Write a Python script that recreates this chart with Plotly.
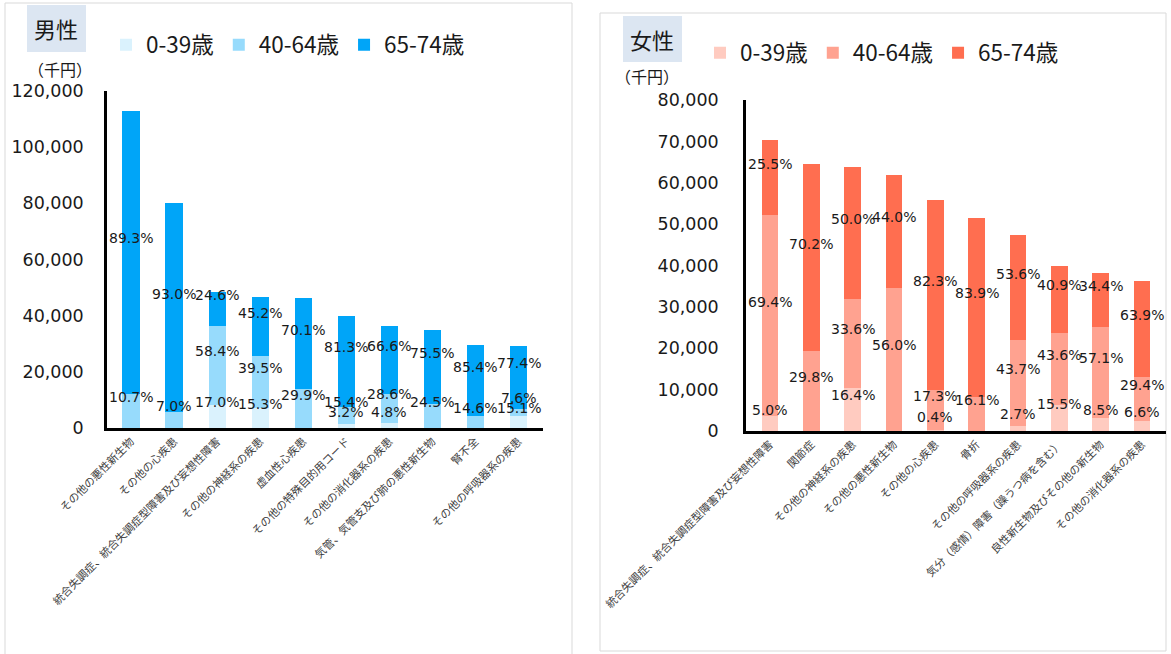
import plotly.graph_objects as go

# ---------------- data ----------------
male_categories = [
    "その他の悪性新生物", "その他の心疾患", "統合失調症、統合失調症型障害及び妄想性障害",
    "その他の神経系の疾患", "虚血性心疾患", "その他の特殊目的用コード",
    "その他の消化器系の疾患", "気管、気管支及び肺の悪性新生物", "腎不全", "その他の呼吸器系の疾患",
]
male_total = [113000, 80000, 48400, 46600, 46200, 40100, 36500, 34800, 29500, 29300]
male_pct_0_39 = [0.0, 0.0, 17.0, 15.3, 0.0, 3.2, 4.8, 0.0, 0.0, 15.1]
male_pct_40_64 = [10.7, 7.0, 58.4, 39.5, 29.9, 15.4, 28.6, 24.5, 14.6, 7.6]
male_pct_65_74 = [89.3, 93.0, 24.6, 45.2, 70.1, 81.3, 66.6, 75.5, 85.4, 77.4]

female_categories = [
    "統合失調症、統合失調症型障害及び妄想性障害", "関節症", "その他の神経系の疾患",
    "その他の悪性新生物", "その他の心疾患", "骨折", "その他の呼吸器系の疾患",
    "気分（感情）障害（躁うつ病を含む）", "良性新生物及びその他の新生物", "その他の消化器系の疾患",
]
female_total = [70300, 64600, 63800, 61900, 55800, 51500, 47300, 40000, 38300, 36200]
female_pct_0_39 = [5.0, 0.0, 16.4, 0.0, 0.4, 0.0, 2.7, 15.5, 8.5, 6.6]
female_pct_40_64 = [69.4, 29.8, 33.6, 56.0, 17.3, 16.1, 43.7, 43.6, 57.1, 29.4]
female_pct_65_74 = [25.5, 70.2, 50.0, 44.0, 82.3, 83.9, 53.6, 40.9, 34.4, 63.9]

age_groups = ["0-39歳", "40-64歳", "65-74歳"]
male_colors = ["#DAF2FD", "#97DBFC", "#00A5F8"]
female_colors = ["#FFCBC0", "#FFA290", "#FF6E50"]

W, H = 1171, 654
def px(x):
    return x / W
def py(y):
    return 1 - y / H

NUM_FONT = "DejaVu Sans, Verdana, sans-serif"
JP_FONT = "Noto Sans CJK JP, sans-serif"

fig = go.Figure()
annotations = []

def add_panel(cats, total, pcts, colors, xa, ya, legend_name):
    base = [0.0] * len(cats)
    for name, pct, col in zip(age_groups, pcts, colors):
        vals = [t * p / 100 for t, p in zip(total, pct)]
        fig.add_trace(go.Bar(
            x=cats, y=vals, name=name, marker=dict(color=col, line=dict(width=0)),
            xaxis=xa, yaxis=ya, legend=legend_name, hoverinfo="skip",
        ))
        for c, b, v, p in zip(cats, base, vals, pct):
            if p > 0:
                annotations.append(dict(
                    x=c, y=b + v / 2, xref=xa, yref=ya, text=f"{p:.1f}%",
                    showarrow=False, yshift=14, xanchor="center", yanchor="middle",
                    font=dict(family=NUM_FONT, size=14, color="#1a1a1a"),
                ))
        base = [b + v for b, v in zip(base, vals)]

add_panel(male_categories, male_total,
          [male_pct_0_39, male_pct_40_64, male_pct_65_74], male_colors, "x", "y", "legend")
add_panel(female_categories, female_total,
          [female_pct_0_39, female_pct_40_64, female_pct_65_74], female_colors, "x2", "y2", "legend2")

axis_common = dict(showline=True, linecolor="black", linewidth=2.5, showgrid=False,
                   zeroline=False, ticks="", automargin=False)
xaxis_common = dict(axis_common, tickangle=-45, type="category",
                    tickfont=dict(family=JP_FONT, size=11, color="#404040"))
yaxis_common = dict(axis_common, tickformat=",d",
                    tickfont=dict(family=NUM_FONT, size=17.5, color="#1a1a1a"))

shapes = [
    # panel borders
    dict(type="rect", xref="paper", yref="paper", x0=px(5), x1=px(572), y0=py(660), y1=py(3),
         line=dict(color="#D9D9D9", width=1), layer="below"),
    dict(type="rect", xref="paper", yref="paper", x0=px(600), x1=px(1166), y0=py(651), y1=py(13),
         line=dict(color="#D9D9D9", width=1), layer="below"),
    # title boxes
    dict(type="rect", xref="paper", yref="paper", x0=px(27), x1=px(86), y0=py(52), y1=py(5),
         fillcolor="#DCE6F2", line=dict(width=0), layer="below"),
    dict(type="rect", xref="paper", yref="paper", x0=px(623), x1=px(682), y0=py(62), y1=py(16),
         fillcolor="#DCE6F2", line=dict(width=0), layer="below"),
]

def paper_text(text, x, y, size):
    return dict(text=text, x=px(x), y=py(y), xref="paper", yref="paper", showarrow=False,
                xanchor="center", yanchor="middle",
                font=dict(family=JP_FONT, size=size, color="#1a1a1a"))

annotations += [
    paper_text("男性", 56, 28, 22),
    paper_text("女性", 652, 39, 22),
    paper_text("（千円）", 60, 69, 16),
    paper_text("（千円）", 647, 76, 16),
]

legend_common = dict(orientation="h", xanchor="left", yanchor="middle",
                     bgcolor="rgba(0,0,0,0)", font=dict(family=JP_FONT, size=22.5, color="#1a1a1a"),
                     traceorder="normal")

fig.update_layout(
    width=W, height=H, margin=dict(l=0, r=0, t=0, b=0, autoexpand=False),
    paper_bgcolor="white", plot_bgcolor="rgba(0,0,0,0)",
    barmode="stack", bargap=0.6,
    xaxis=dict(xaxis_common, domain=[px(107), px(542.5)], anchor="y"),
    yaxis=dict(yaxis_common, domain=[py(428), py(91)], range=[0, 120000], dtick=20000,
               anchor="x", ticklabelstandoff=17),
    xaxis2=dict(xaxis_common, domain=[px(746), px(1166)], anchor="y2"),
    yaxis2=dict(yaxis_common, domain=[py(431), py(100)], range=[0, 80000], dtick=10000,
                anchor="x2", ticklabelstandoff=21),
    legend=dict(legend_common, x=px(106), y=py(45)),
    legend2=dict(legend_common, x=px(700), y=py(53)),
    shapes=shapes, annotations=annotations, showlegend=True,
)

fig.write_html(
    "out.html",
    config={"displayModeBar": False},
    post_script="document.body.style.margin='0';document.body.style.overflow='hidden';",
)
